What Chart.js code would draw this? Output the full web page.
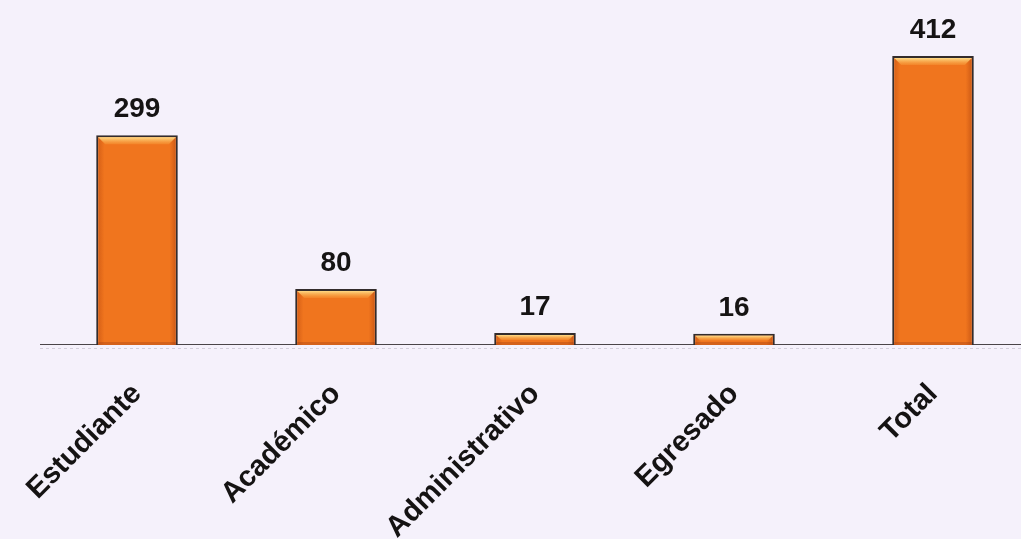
<!DOCTYPE html>
<html>
<head>
<meta charset="utf-8">
<script src="https://cdn.jsdelivr.net/npm/chart.js@4/dist/chart.umd.min.js"></script>
<style>
  html, body { margin: 0; padding: 0; background: #f5f1fb; }
  #wrap { width: 1021px; height: 539px; position: relative; }
</style>
</head>
<body>
<div id="wrap"><canvas id="c"></canvas></div>
<script>
const categories = ['Estudiante', 'Académico', 'Administrativo', 'Egresado', 'Total'];
const values = [299, 80, 17, 16, 412];
const valueLabels = ['299', '80', '17', '16', '412'];

const bgPlugin = {
  id: 'bg',
  beforeDraw(chart) {
    const c = chart.ctx;
    c.save();
    c.fillStyle = '#f5f1fb';
    c.fillRect(0, 0, chart.width, chart.height);
    c.restore();
  }
};

const baselinePlugin = {
  id: 'baseline',
  beforeDatasetsDraw(chart) {
    const c = chart.ctx;
    const y = Math.round(chart.scales.y.getPixelForValue(0)) - 0.5;
    c.save();
    c.strokeStyle = '#4a4448';
    c.lineWidth = 1;
    c.beginPath();
    c.moveTo(40, y);
    c.lineTo(chart.width, y);
    c.stroke();
    c.strokeStyle = 'rgba(150,140,160,0.35)';
    c.setLineDash([3, 3]);
    c.beginPath();
    c.moveTo(40, y + 4);
    c.lineTo(chart.width, y + 4);
    c.stroke();
    c.restore();
  }
};

const barDecorPlugin = {
  id: 'barDecor',
  afterDatasetsDraw(chart) {
    const c = chart.ctx;
    const meta = chart.getDatasetMeta(0);
    c.save();
    meta.data.forEach((bar, i) => {
      const w = bar.width;
      const left = bar.x - w / 2 + 2;
      const right = bar.x + w / 2 - 2;
      const top = bar.y + 2;
      const base = bar.base;
      const h = base - top;
      const g = c.createLinearGradient(left, 0, right, 0);
      g.addColorStop(0, 'rgba(170,60,10,0.35)');
      g.addColorStop(0.08, 'rgba(170,60,10,0)');
      g.addColorStop(0.92, 'rgba(170,60,10,0)');
      g.addColorStop(1, 'rgba(150,50,10,0.4)');
      c.fillStyle = g;
      c.fillRect(left, top, right - left, h);
      const bev = Math.min(7, h / 2);
      const gt = c.createLinearGradient(0, top, 0, top + bev);
      gt.addColorStop(0, 'rgba(255,225,140,0.95)');
      gt.addColorStop(1, 'rgba(250,170,70,0.3)');
      c.fillStyle = gt;
      c.beginPath();
      c.moveTo(left, top);
      c.lineTo(right, top);
      c.lineTo(right - bev, top + bev);
      c.lineTo(left + bev, top + bev);
      c.closePath();
      c.fill();
      c.fillStyle = 'rgba(160,60,20,0.35)';
      c.fillRect(left, base - 3, right - left, 3);
      c.fillStyle = '#161414';
      c.font = 'bold 28px "Liberation Sans", Arial, sans-serif';
      c.textAlign = 'center';
      c.textBaseline = 'alphabetic';
      c.fillText(valueLabels[i], bar.x, bar.y - 18);
    });
    c.restore();
  }
};

new Chart(document.getElementById('c'), {
  type: 'bar',
  data: {
    labels: categories,
    datasets: [{
      data: values,
      backgroundColor: '#f0751e',
      borderColor: '#332c2c',
      borderWidth: { top: 2, left: 2, right: 2, bottom: 0 },
      borderSkipped: false,
      categoryPercentage: 1,
      barPercentage: 0.41,
      clip: false
    }]
  },
  options: {
    responsive: true,
    maintainAspectRatio: false,
    animation: false,
    layout: { padding: { left: 137, right: 88, top: 0, bottom: 0 } },
    plugins: { legend: { display: false }, tooltip: { enabled: false } },
    scales: {
      x: {
        offset: false,
        grid: { display: false, drawTicks: false },
        border: { display: false },
        ticks: {
          autoSkip: false,
          minRotation: 45,
          maxRotation: 45,
          padding: 32,
          color: '#151313',
          font: { family: '"Liberation Sans", Arial, sans-serif', size: 29, weight: 'bold' }
        },
        afterFit(axis) {
          axis.height = 194;
          axis.paddingLeft = 0;
          axis.paddingRight = 0;
        }
      },
      y: {
        display: false,
        min: 0,
        max: 492
      }
    }
  },
  plugins: [bgPlugin, baselinePlugin, barDecorPlugin]
});
</script>
</body>
</html>
